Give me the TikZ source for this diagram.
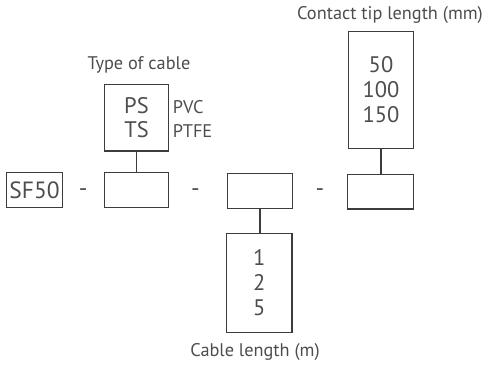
\documentclass[tikz,border=0pt]{standalone}
\usepackage{fontspec}
\setmainfont{PT Sans}
\begin{document}
\begin{tikzpicture}[x=1pt,y=-1pt,
  every node/.style={text=txt, inner sep=0pt},
  box/.style={draw=ln, line width=1.2pt, minimum width=#1},
  box/.default=65pt,
  big/.style={font=\fontsize{22.5}{25}\selectfont, align=center},
  lbl/.style={font=\fontsize{18.3}{20}\selectfont},
  dsh/.style={font=\fontsize{24}{24}\selectfont, anchor=base},
  conn/.style={draw=ln, line width=1.2pt}]
\definecolor{txt}{HTML}{4D4D4D}
\definecolor{ln}{HTML}{3C3C3C}
\useasboundingbox (0,0) rectangle (487,365);
% main row
\node[box=55.6pt, minimum height=35pt, font=\fontsize{23.5}{24}\selectfont] (sf) at (34.5,190.2) {SF50};
\node[dsh] (d1) at (83.3,196) {-};
\node[box=64.2pt, minimum height=35.4pt] (b1) at (136.4,190) {};
\node[dsh] (d2) at (195.5,196) {-};
\node[box=65.4pt, minimum height=35pt] (b2) at (260,190.8) {};
\node[dsh] (d3) at (320,196) {-};
\node[box=65.6pt, minimum height=34.7pt] (b3) at (380.5,191.7) {};
% option boxes
\node[box=64.4pt, minimum height=66.7pt, big, font=\fontsize{22.5}{24}\selectfont] (pt) at (136.5,117.7) {PS\\TS};
\node[box=65.3pt, minimum height=99.4pt, big] (cl) at (259.3,283) {1\\2\\5};
\node[box=64.6pt, minimum height=116.6pt, big] (ct) at (381,90) {50\\100\\150};
% labels
\node[lbl] (tl) at (139,65) {Type of cable};
\node[lbl] (cll) at (255,351.7) {Cable length (m)};
\node[lbl] (ctl) at (390,15) {Contact tip length (mm)};
\node[lbl, anchor=west] (pvc) at (172.7,107) {PVC};
\node[lbl, anchor=west] (ptfe) at (172.7,130.7) {PTFE};
% connectors
\draw[conn] (pt.south) -- (pt.south |- b1.north);
\draw[conn] (b2.south) -- (b2.south |- cl.north);
\draw[conn] (ct.south) -- (ct.south |- b3.north);
\end{tikzpicture}
\end{document}
